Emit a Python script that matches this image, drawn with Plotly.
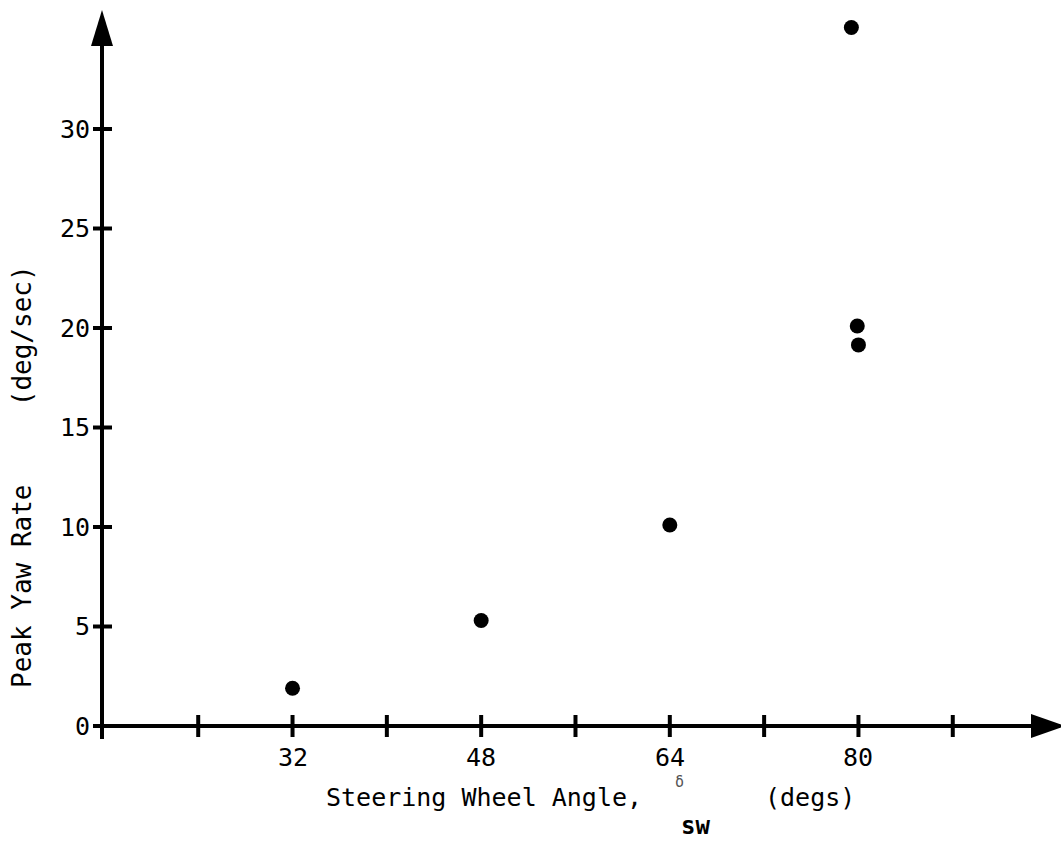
import plotly.graph_objects as go

# ---- data ----
steering_angle = [32, 48, 64, 79.4, 79.9, 80.0]
peak_yaw_rate = [1.9, 5.3, 10.1, 35.1, 20.1, 19.15]

x_tick_marks = [24, 32, 40, 48, 56, 64, 72, 80, 88]
x_tick_labels = [32, 48, 64, 80]
y_tick_marks = [0, 5, 10, 15, 20, 25, 30]
y_tick_labels = ["0", "5", "10", "15", "20", "25", "30"]

# ---- geometry (pixel layout of the page) ----
W, H = 1061, 854
X0_PX, Y0_PX = 102, 726          # pixel position of the axis origin
PX_PER_DEG, PX_PER_UNIT = 11.79, 19.9
X_ORIGIN = 15.84                  # data x at the vertical axis

x_range = [X_ORIGIN - X0_PX / PX_PER_DEG, X_ORIGIN + (W - X0_PX) / PX_PER_DEG]
y_range = [-(H - Y0_PX) / PX_PER_UNIT, Y0_PX / PX_PER_UNIT]

def xd(px):
    return X_ORIGIN + (px - X0_PX) / PX_PER_DEG

def yd(py):
    return (Y0_PX - py) / PX_PER_UNIT

FONT = "DejaVu Sans Mono"
INK = "black"

fig = go.Figure()
fig.add_trace(go.Scatter(
    x=steering_angle, y=peak_yaw_rate, mode="markers",
    marker=dict(size=15, color=INK, line=dict(width=0)),
    hoverinfo="skip", showlegend=False,
))

shapes = []
# axis lines
shapes.append(dict(type="line", xref="x", yref="y", x0=X_ORIGIN, x1=X_ORIGIN,
                   y0=yd(739), y1=yd(40), line=dict(color=INK, width=4)))
shapes.append(dict(type="line", xref="x", yref="y", x0=xd(94), x1=xd(1035),
                   y0=0, y1=0, line=dict(color=INK, width=4)))
# arrowheads
shapes.append(dict(type="path", xref="x", yref="y", xsizemode="pixel", ysizemode="pixel",
                   xanchor=X_ORIGIN, yanchor=yd(10),
                   path="M0,0 L-11,-36 L11,-36 Z", fillcolor=INK, line=dict(width=0)))
shapes.append(dict(type="path", xref="x", yref="y", xsizemode="pixel", ysizemode="pixel",
                   xanchor=xd(1031), yanchor=0,
                   path="M0,-12 L0,12 L34,0 Z", fillcolor=INK, line=dict(width=0)))
# tick marks
for t in x_tick_marks:
    shapes.append(dict(type="line", xref="x", yref="y", ysizemode="pixel", yanchor=0,
                       x0=t, x1=t, y0=-11, y1=11, line=dict(color=INK, width=4)))
for t in y_tick_marks:
    shapes.append(dict(type="line", xref="x", yref="y", xsizemode="pixel", xanchor=X_ORIGIN,
                       y0=t, y1=t, x0=-9, x1=10, line=dict(color=INK, width=4)))

annotations = []
for t in x_tick_labels:
    annotations.append(dict(x=t, y=0, xref="x", yref="y", text=str(t), showarrow=False,
                            xanchor="center", yanchor="middle", yshift=-31,
                            font=dict(family=FONT, size=25, color=INK)))
for t, lab in zip(y_tick_marks, y_tick_labels):
    annotations.append(dict(x=X_ORIGIN, y=t, xref="x", yref="y", text=lab, showarrow=False,
                            xanchor="right", yanchor="middle", xshift=-10,
                            font=dict(family=FONT, size=25, color=INK)))

def pp(px, py):
    return px / W, 1 - py / H

# x title
x, y = pp(324, 797)
annotations.append(dict(x=x, y=y, xref="paper", yref="paper", text="Steering Wheel Angle,",
                        showarrow=False, xanchor="left", yanchor="middle",
                        font=dict(family=FONT, size=25, color=INK)))
x, y = pp(679, 782)
annotations.append(dict(x=x, y=y, xref="paper", yref="paper", text="δ",
                        showarrow=False, xanchor="center", yanchor="middle",
                        font=dict(family=FONT, size=15, color="#555555")))
x, y = pp(695, 826)
annotations.append(dict(x=x, y=y, xref="paper", yref="paper", text="<b>sw</b>",
                        showarrow=False, xanchor="center", yanchor="middle",
                        font=dict(family=FONT, size=24, color=INK)))
x, y = pp(763, 797)
annotations.append(dict(x=x, y=y, xref="paper", yref="paper", text="(degs)",
                        showarrow=False, xanchor="left", yanchor="middle",
                        font=dict(family=FONT, size=25, color=INK)))
# y title
x, y = pp(22, 477)
annotations.append(dict(x=x, y=y, xref="paper", yref="paper",
                        text="Peak\u00a0Yaw\u00a0Rate\u00a0\u00a0\u00a0\u00a0\u00a0(deg/sec)",
                        showarrow=False, xanchor="center", yanchor="middle", textangle=-90,
                        font=dict(family=FONT, size=26, color=INK)))

fig.update_layout(
    width=W, height=H,
    margin=dict(l=0, r=0, t=0, b=0),
    paper_bgcolor="white", plot_bgcolor="white",
    xaxis=dict(range=x_range, visible=False, fixedrange=True),
    yaxis=dict(range=y_range, visible=False, fixedrange=True),
    shapes=shapes, annotations=annotations, showlegend=False,
)

fig.write_html("out.html", config={"displayModeBar": False})
